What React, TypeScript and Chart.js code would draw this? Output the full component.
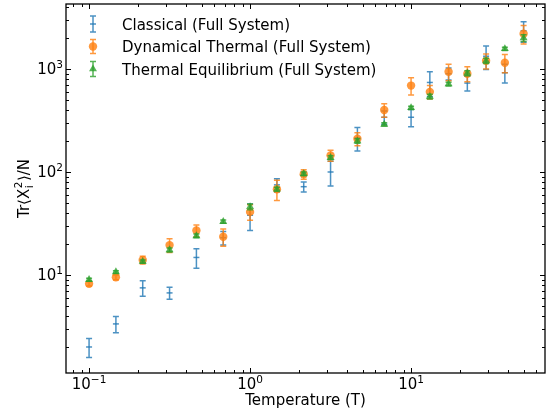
import React, { useEffect, useRef } from "react";
import { Chart, registerables } from "chart.js";
Chart.register(...registerables);

// ---- data ----
const temps = [0.1, 0.1468, 0.2154, 0.3162, 0.4642, 0.6813, 1.0, 1.468, 2.154, 3.162, 4.642, 6.813, 10, 13.08, 17.1, 22.36, 29.24, 38.24, 50];

const classicalVals = [2.0, 3.35, 7.5, 6.7, 14.8, 23, 38, 75, 72, 100, 215, 340, 340, 740, 900, 730, 1330, 920, 2350];
const classicalErr = [0.42, 0.6, 1.3, 0.9, 3.2, 3.5, 11, 11, 8, 27, 55, 50, 65, 200, 120, 120, 340, 190, 530];

const dynamicalVals = [8.2, 9.5, 14, 19.5, 27, 23.5, 41, 68, 95, 145, 210, 400, 690, 600, 940, 900, 1200, 1150, 2200];
const dynamicalErr = [0.4, 0.5, 1.2, 3, 3.5, 4.5, 7, 15, 10, 18, 30, 60, 130, 90, 170, 150, 200, 230, 450];

const equilibriumVals = [9.0, 10.7, 13.5, 17.5, 24, 33, 46, 68, 96, 138, 200, 290, 420, 540, 715, 910, 1200, 1570, 2000];
const equilibriumErr = [0.3, 0.3, 0.5, 0.8, 1, 1.2, 3, 3, 4, 6, 10, 10, 15, 30, 30, 50, 70, 60, 150];

const seriesLabels = ["Classical (Full System)", "Dynamical Thermal (Full System)", "Thermal Equilibrium (Full System)"];

const xTickVals = [0.1, 1, 10];
const xTickExps = ["\u22121", "0", "1"];
const yTickVals = [10, 100, 1000];
const yTickExps = ["1", "2", "3"];

const xLimits = [0.0719, 67.9];
const yLimits = [1.118, 4276];

const BLUE = "rgba(31,119,180,0.8)";
const ORANGE = "rgba(255,127,14,0.8)";
const GREEN = "rgba(44,160,44,0.8)";
const FONT = "'DejaVu Sans', sans-serif";

function drawTriangle(ctx: CanvasRenderingContext2D, x: number, y: number, r: number, color: string) {
  ctx.beginPath();
  let rad = 0;
  ctx.moveTo(x + Math.sin(rad) * r, y - Math.cos(rad) * r);
  rad += (2 * Math.PI) / 3;
  ctx.lineTo(x + Math.sin(rad) * r, y - Math.cos(rad) * r);
  rad += (2 * Math.PI) / 3;
  ctx.lineTo(x + Math.sin(rad) * r, y - Math.cos(rad) * r);
  ctx.closePath();
  ctx.fillStyle = color;
  ctx.fill();
}

function drawErr(ctx: CanvasRenderingContext2D, x: number, y1: number, y2: number, color: string) {
  ctx.strokeStyle = color;
  ctx.lineWidth = 1.5;
  ctx.beginPath();
  ctx.moveTo(x, y1);
  ctx.lineTo(x, y2);
  ctx.moveTo(x - 3, y1);
  ctx.lineTo(x + 3, y1);
  ctx.moveTo(x - 3, y2);
  ctx.lineTo(x + 3, y2);
  ctx.stroke();
}

const errorBarPlugin = {
  id: "errbars",
  beforeDatasetDraw(chart: any, args: any) {
    const ds = chart.data.datasets[args.index];
    const errs: number[] = ds.errs;
    if (!errs) return;
    const ctx = chart.ctx;
    const ys = chart.scales.y;
    const xs = chart.scales.x;
    ctx.save();
    ds.data.forEach((p: any, i: number) => {
      const e = errs[i];
      const px = xs.getPixelForValue(p.x);
      const top = ys.getPixelForValue(p.y + e);
      const bot = ys.getPixelForValue(Math.max(p.y - e, 1e-6));
      drawErr(ctx, px, top, bot, ds.errColor);
    });
    ctx.restore();
  },
};

const axesPlugin = {
  id: "mplaxes",
  afterDraw(chart: any) {
    const ctx: CanvasRenderingContext2D = chart.ctx;
    const a = chart.chartArea;
    const xs = chart.scales.x;
    const ys = chart.scales.y;
    ctx.save();
    // ticks
    ctx.strokeStyle = "#000";
    ctx.lineWidth = 1;
    const xTicks: [number, boolean][] = [];
    for (let d = -2; d <= 2; d++) {
      for (let m = 1; m <= 9; m++) {
        const v = m * Math.pow(10, d);
        if (v >= xLimits[0] && v <= xLimits[1]) xTicks.push([v, m === 1]);
      }
    }
    xTicks.forEach(([v, major]) => {
      const px = Math.round(xs.getPixelForValue(v)) + 0.5;
      const len = major ? 5 : 3;
      ctx.beginPath();
      ctx.moveTo(px, a.bottom);
      ctx.lineTo(px, a.bottom - len);
      ctx.moveTo(px, a.top);
      ctx.lineTo(px, a.top + len);
      ctx.stroke();
    });
    const yTicks: [number, boolean][] = [];
    for (let d = 0; d <= 3; d++) {
      for (let m = 1; m <= 9; m++) {
        const v = m * Math.pow(10, d);
        if (v >= yLimits[0] && v <= yLimits[1]) yTicks.push([v, m === 1]);
      }
    }
    yTicks.forEach(([v, major]) => {
      const py = Math.round(ys.getPixelForValue(v)) + 0.5;
      const len = major ? 5 : 3;
      ctx.beginPath();
      ctx.moveTo(a.left, py);
      ctx.lineTo(a.left + len, py);
      ctx.moveTo(a.right, py);
      ctx.lineTo(a.right - len, py);
      ctx.stroke();
    });
    // frame
    ctx.lineWidth = 1.3;
    ctx.strokeStyle = "#000";
    ctx.strokeRect(a.left, a.top, a.right - a.left, a.bottom - a.top);

    // tick labels
    ctx.fillStyle = "#000";
    ctx.textBaseline = "alphabetic";
    const big = "15px " + FONT;
    const small = "10.5px " + FONT;
    xTickVals.forEach((v, i) => {
      const px = xs.getPixelForValue(v);
      ctx.font = big;
      const w1 = ctx.measureText("10").width;
      ctx.font = small;
      const w2 = ctx.measureText(xTickExps[i]).width;
      const start = px - (w1 + w2) / 2;
      ctx.textAlign = "left";
      ctx.font = big;
      ctx.fillText("10", start, 389);
      ctx.font = small;
      ctx.fillText(xTickExps[i], start + w1, 383);
    });
    yTickVals.forEach((v, i) => {
      const py = ys.getPixelForValue(v);
      ctx.font = small;
      const w2 = ctx.measureText(yTickExps[i]).width;
      ctx.font = big;
      const w1 = ctx.measureText("10").width;
      const end = a.left - 3;
      ctx.textAlign = "left";
      ctx.fillText("10", end - w1 - w2, py + 5.5);
      ctx.font = small;
      ctx.fillText(yTickExps[i], end - w2, py - 0.5);
    });

    // x title
    ctx.font = big;
    ctx.textAlign = "center";
    ctx.fillText("Temperature (T)", (a.left + a.right) / 2, 405);

    // y title: Tr⟨X_i^2⟩/N
    ctx.save();
    ctx.translate(29, (a.top + a.bottom) / 2);
    ctx.rotate(-Math.PI / 2);
    ctx.textAlign = "left";
    const p1 = "Tr\u27E8X";
    const p3 = "\u27E9/N";
    ctx.font = big;
    const w1 = ctx.measureText(p1).width;
    const w3 = ctx.measureText(p3).width;
    ctx.font = small;
    const ws = Math.max(ctx.measureText("2").width, ctx.measureText("i").width);
    const total = w1 + ws + w3 + 1;
    let x0 = -total / 2;
    ctx.font = big;
    ctx.fillText(p1, x0, 0);
    ctx.font = small;
    ctx.fillText("2", x0 + w1 + 0.5, -7);
    ctx.fillText("i", x0 + w1 + 0.5, 3.5);
    ctx.font = big;
    ctx.fillText(p3, x0 + w1 + ws + 1, 0);
    ctx.restore();

    // legend
    const lx = 93;
    const tx = 122;
    const rows = [29.5, 52, 74.5];
    ctx.font = big;
    ctx.textAlign = "left";
    ctx.fillStyle = "#000";
    seriesLabels.forEach((t, i) => ctx.fillText(t, tx, rows[i]));
    // icons
    const cy0 = rows[0] - 5.5;
    drawErr(ctx, lx, cy0 - 8, cy0 + 8, BLUE);
    ctx.strokeStyle = BLUE;
    ctx.lineWidth = 1.5;
    ctx.beginPath();
    ctx.moveTo(lx - 3, cy0);
    ctx.lineTo(lx + 3, cy0);
    ctx.stroke();
    const cy1 = rows[1] - 5.5;
    drawErr(ctx, lx, cy1 - 7, cy1 + 7, ORANGE);
    ctx.fillStyle = ORANGE;
    ctx.beginPath();
    ctx.arc(lx, cy1, 4.2, 0, Math.PI * 2);
    ctx.fill();
    const cy2 = rows[2] - 5.5;
    drawErr(ctx, lx, cy2 - 7.5, cy2 + 7.5, GREEN);
    drawTriangle(ctx, lx, cy2, 4.6, GREEN);
    ctx.restore();
  },
};

export default function App() {
  const ref = useRef<HTMLCanvasElement | null>(null);
  useEffect(() => {
    if (!ref.current) return;
    const mk = (vals: number[]) => temps.map((t, i) => ({ x: t, y: vals[i] }));
    const chart = new Chart(ref.current, {
      type: "scatter",
      data: {
        datasets: [
          {
            label: seriesLabels[0],
            data: mk(classicalVals),
            errs: classicalErr,
            errColor: BLUE,
            pointStyle: "line",
            pointRadius: 3,
            borderColor: BLUE,
            backgroundColor: BLUE,
            borderWidth: 1.5,
            order: 3,
          } as any,
          {
            label: seriesLabels[1],
            data: mk(dynamicalVals),
            errs: dynamicalErr,
            errColor: ORANGE,
            pointStyle: "circle",
            pointRadius: 4.2,
            backgroundColor: ORANGE,
            borderWidth: 0,
            order: 2,
          } as any,
          {
            label: seriesLabels[2],
            data: mk(equilibriumVals),
            errs: equilibriumErr,
            errColor: GREEN,
            pointStyle: "triangle",
            pointRadius: 4.6,
            backgroundColor: GREEN,
            borderWidth: 0,
            order: 1,
          } as any,
        ],
      },
      options: {
        animation: false,
        responsive: false,
        layout: { autoPadding: false, padding: { left: 66, right: 2, top: 4, bottom: 45 } },
        plugins: { legend: { display: false }, tooltip: { enabled: false } },
        scales: {
          x: { type: "logarithmic", min: xLimits[0], max: xLimits[1], display: false },
          y: { type: "logarithmic", min: yLimits[0], max: yLimits[1], display: false },
        },
      },
      plugins: [errorBarPlugin, axesPlugin],
    });
    return () => chart.destroy();
  }, []);
  return (
    <div style={{ position: "absolute", left: 0, top: 0, width: 547, height: 418, background: "#fff" }}>
      <canvas ref={ref} width={547} height={418} />
    </div>
  );
}
